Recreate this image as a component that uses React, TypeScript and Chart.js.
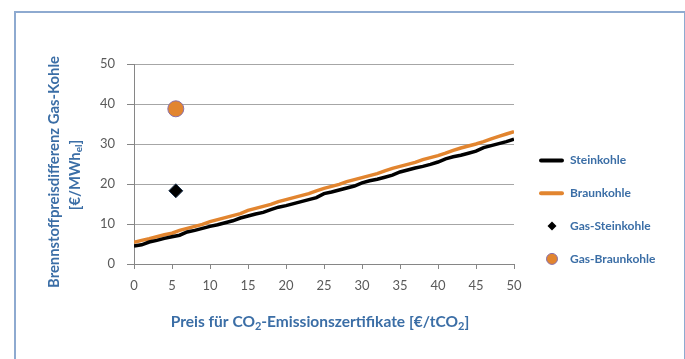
import { useEffect, useRef } from "react";
import { Chart, registerables } from "chart.js";

Chart.register(...registerables);

// CO2 certificate price [€/tCO2]
const co2Price = [
  0, 1, 2, 3, 4, 5, 6, 7, 8, 9, 10, 11, 12, 13, 14, 15, 16, 17, 18, 19, 20,
  21, 22, 23, 24, 25, 26, 27, 28, 29, 30, 31, 32, 33, 34, 35, 36, 37, 38, 39,
  40, 41, 42, 43, 44, 45, 46, 47, 48, 49, 50,
];

// Fuel price difference gas vs. hard coal [€/MWh_el]
const steinkohle = [
  4.5, 4.8, 5.5, 5.9, 6.4, 6.8, 7.2, 8.0, 8.4, 8.9, 9.4, 9.8, 10.3, 10.8, 11.5,
  12.0, 12.5, 12.9, 13.6, 14.2, 14.6, 15.1, 15.6, 16.1, 16.6, 17.6, 18.0, 18.5,
  19.0, 19.5, 20.3, 20.8, 21.2, 21.7, 22.2, 23.0, 23.5, 24.0, 24.4, 24.9, 25.5,
  26.3, 26.8, 27.2, 27.7, 28.2, 29.1, 29.6, 30.1, 30.6, 31.2,
];

// Fuel price difference gas vs. lignite [€/MWh_el]
const braunkohle = [
  5.4, 5.9, 6.3, 6.8, 7.3, 7.7, 8.4, 8.9, 9.4, 9.9, 10.6, 11.1, 11.6, 12.1,
  12.6, 13.4, 13.9, 14.4, 14.9, 15.6, 16.1, 16.6, 17.1, 17.6, 18.3, 18.9, 19.4,
  19.9, 20.6, 21.1, 21.6, 22.1, 22.6, 23.3, 23.9, 24.4, 24.9, 25.4, 26.1, 26.6,
  27.1, 27.7, 28.4, 29.0, 29.5, 30.0, 30.6, 31.3, 31.9, 32.5, 33.1,
];

// Single reference points
const gasSteinkohle = [{ x: 5.5, y: 18.3 }];
const gasBraunkohle = [{ x: 5.5, y: 38.8 }];

const seriesLabels = ["Steinkohle", "Braunkohle", "Gas-Steinkohle", "Gas-Braunkohle"];

const BLUE = "#3b6ea6";
const ORANGE = "#e2852f";
const FONT = "Lato, 'Open Sans', sans-serif";

type Seg = { t: string; sub?: boolean };

function drawRich(
  ctx: CanvasRenderingContext2D,
  segs: Seg[],
  cx: number,
  cy: number,
  size: number
) {
  const mainFont = `bold ${size}px ${FONT}`;
  const subFont = `bold ${Math.round(size * 0.68)}px ${FONT}`;
  let total = 0;
  for (const s of segs) {
    ctx.font = s.sub ? subFont : mainFont;
    total += ctx.measureText(s.t).width;
  }
  let x = cx - total / 2;
  ctx.textBaseline = "middle";
  ctx.textAlign = "left";
  for (const s of segs) {
    ctx.font = s.sub ? subFont : mainFont;
    ctx.fillText(s.t, x, s.sub ? cy + size * 0.28 : cy);
    x += ctx.measureText(s.t).width;
  }
}

const decorPlugin = {
  id: "decor",
  afterDraw(chart: Chart) {
    const ctx = chart.ctx;
    ctx.save();
    ctx.fillStyle = BLUE;

    // x-axis title
    drawRich(
      ctx,
      [
        { t: "Preis für CO" },
        { t: "2", sub: true },
        { t: "-Emissionszertifikate [€/tCO" },
        { t: "2", sub: true },
        { t: "]" },
      ],
      320,
      322,
      15.5
    );

    // y-axis title, two rotated lines
    ctx.save();
    ctx.translate(54, 172);
    ctx.rotate(-Math.PI / 2);
    drawRich(ctx, [{ t: "Brennstoffpreisdifferenz Gas-Kohle" }], 0, 0, 14.8);
    ctx.restore();
    ctx.save();
    ctx.translate(75, 175);
    ctx.rotate(-Math.PI / 2);
    drawRich(ctx, [{ t: "[€/MWh" }, { t: "el", sub: true }, { t: "]" }], 0, 0, 14.8);
    ctx.restore();

    // legend
    const ds = chart.data.datasets as any[];
    ds.forEach((d, i) => {
      const y = 160.5 + i * 32.8;
      ctx.save();
      if (i < 2) {
        ctx.strokeStyle = d.borderColor;
        ctx.lineWidth = 4;
        ctx.lineCap = "round";
        ctx.beginPath();
        ctx.moveTo(541, y);
        ctx.lineTo(562, y);
        ctx.stroke();
      } else if (i === 2) {
        ctx.fillStyle = d.backgroundColor;
        ctx.beginPath();
        ctx.moveTo(552, y - 4.5);
        ctx.lineTo(556.5, y);
        ctx.lineTo(552, y + 4.5);
        ctx.lineTo(547.5, y);
        ctx.closePath();
        ctx.fill();
      } else {
        ctx.fillStyle = d.backgroundColor;
        ctx.strokeStyle = d.borderColor;
        ctx.lineWidth = 1;
        ctx.beginPath();
        ctx.arc(552, y, 5.5, 0, Math.PI * 2);
        ctx.fill();
        ctx.stroke();
      }
      ctx.restore();
      ctx.fillStyle = BLUE;
      ctx.font = `bold 12px ${FONT}`;
      ctx.textAlign = "left";
      ctx.textBaseline = "middle";
      ctx.fillText(d.label, 570, y);
    });
    ctx.restore();
  },
};

export default function App() {
  const canvasRef = useRef<HTMLCanvasElement>(null);

  useEffect(() => {
    const canvas = canvasRef.current;
    if (!canvas) return;
    const chart = new Chart(canvas, {
      type: "line",
      data: {
        datasets: [
          {
            label: seriesLabels[0],
            data: co2Price.map((x, i) => ({ x, y: steinkohle[i] })),
            borderColor: "#000000",
            backgroundColor: "#000000",
            borderWidth: 3.5,
            pointRadius: 0,
            tension: 0,
          },
          {
            label: seriesLabels[1],
            data: co2Price.map((x, i) => ({ x, y: braunkohle[i] })),
            borderColor: ORANGE,
            backgroundColor: ORANGE,
            borderWidth: 3.5,
            pointRadius: 0,
            tension: 0,
          },
          {
            label: seriesLabels[2],
            data: gasSteinkohle,
            showLine: false,
            pointStyle: "rectRot",
            pointRadius: 7,
            backgroundColor: "#000000",
            borderColor: "#1f3550",
            borderWidth: 1,
          },
          {
            label: seriesLabels[3],
            data: gasBraunkohle,
            showLine: false,
            pointStyle: "circle",
            pointRadius: 8,
            backgroundColor: ORANGE,
            borderColor: "#8a70a8",
            borderWidth: 1,
          },
        ],
      },
      options: {
        responsive: false,
        animation: false,
        layout: { padding: { left: 0, top: 64, right: 171, bottom: 0 } },
        plugins: {
          legend: { display: false },
          tooltip: { enabled: false },
        },
        scales: {
          x: {
            type: "linear",
            min: 0,
            max: 50,
            ticks: {
              stepSize: 5,
              color: "#5a5a5a",
              font: { family: FONT, size: 13 },
              padding: 9,
              maxRotation: 0,
            },
            grid: {
              drawOnChartArea: false,
              drawTicks: true,
              tickLength: 5,
              tickColor: "#868686",
            },
            border: { color: "#868686", width: 1 },
            afterFit: (s: any) => {
              s.height = 95;
            },
          },
          y: {
            min: 0,
            max: 50,
            ticks: {
              stepSize: 10,
              color: "#5a5a5a",
              font: { family: FONT, size: 13 },
              padding: 12,
            },
            grid: {
              color: "#a6a6a6",
              tickColor: "#868686",
              tickLength: 7,
            },
            border: { color: "#868686", width: 1 },
            afterFit: (s: any) => {
              s.width = 134;
            },
          },
        },
      },
      plugins: [decorPlugin],
    });
    return () => chart.destroy();
  }, []);

  return (
    <div
      style={{
        position: "absolute",
        left: 0,
        top: 0,
        width: 685,
        height: 359,
        background: "#ffffff",
        overflow: "hidden",
      }}
    >
      <div
        style={{
          position: "absolute",
          left: 14,
          top: 11,
          width: 668,
          height: 360,
          borderLeft: "2px solid #8eaad0",
          borderTop: "2px solid #8eaad0",
          borderRight: "2px solid #8eaad0",
        }}
      />
      <canvas
        ref={canvasRef}
        width={685}
        height={359}
        style={{ position: "absolute", left: 0, top: 0, width: 685, height: 359 }}
      />
    </div>
  );
}
